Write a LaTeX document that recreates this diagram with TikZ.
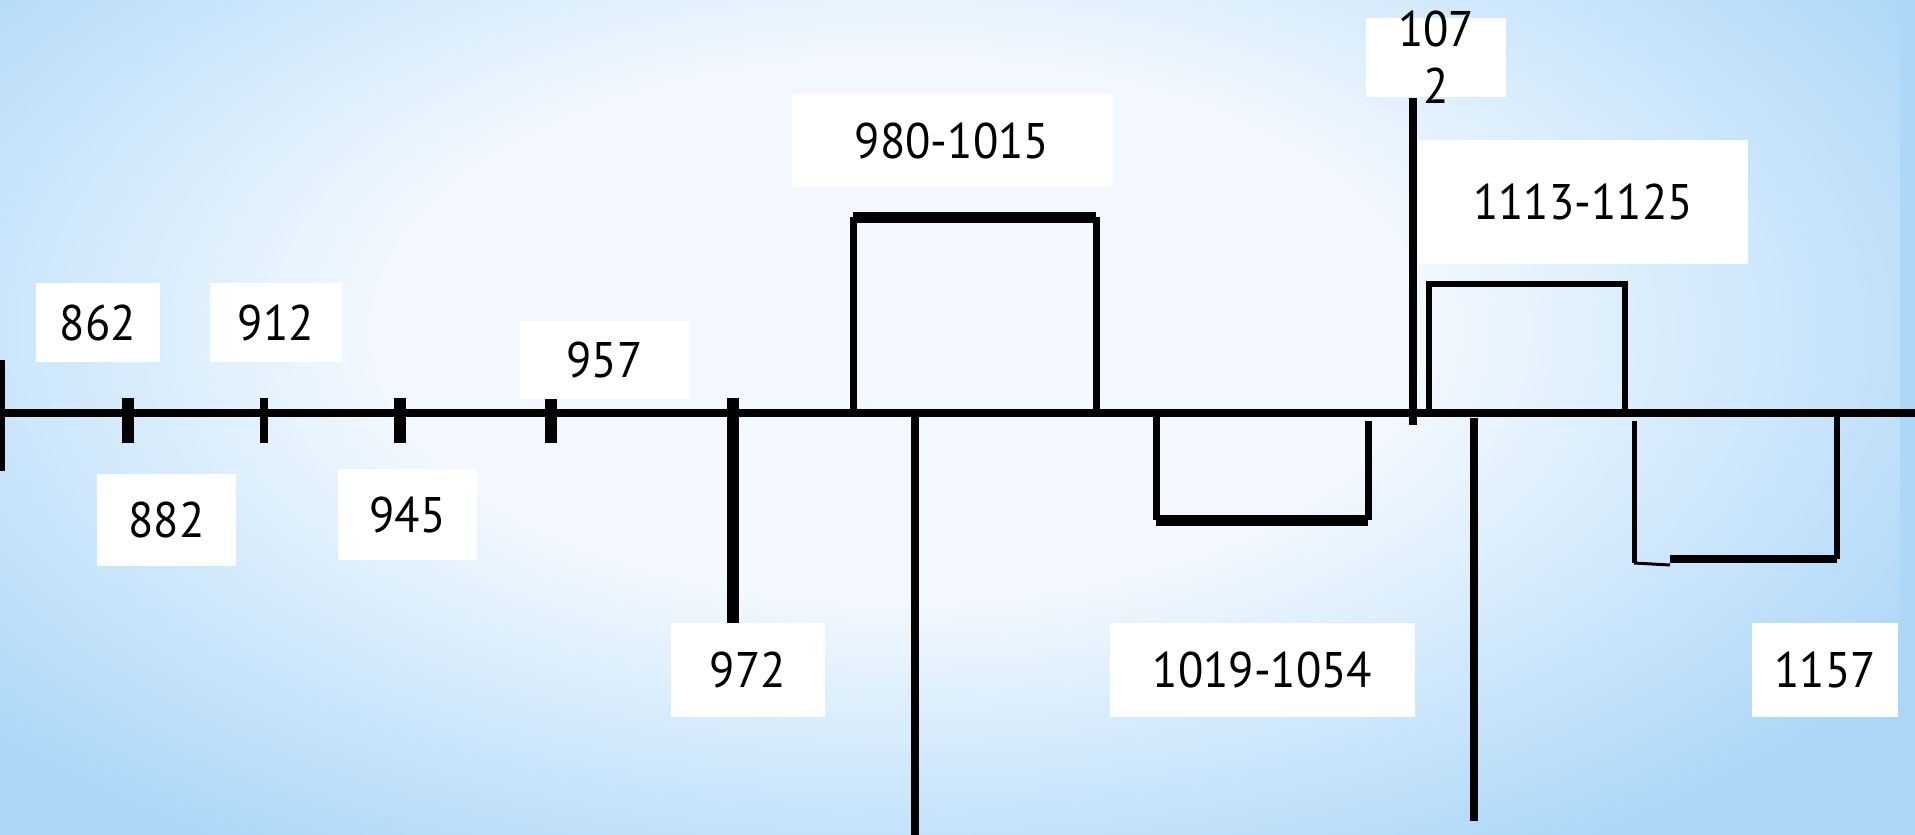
\documentclass[tikz,border=0pt]{standalone}
\usepackage{fontspec}
\setmainfont{PT Sans}[FakeStretch=0.93]
\definecolor{bgblue}{RGB}{172,215,248}
\definecolor{bgpale}{RGB}{242,248,254}
\newcommand\numfont{\fontsize{50}{57}\selectfont}

% soft glow: pale in the middle, blue towards the rim
\pgfdeclareradialshading{bgglow}{\pgfpoint{0bp}{0bp}}{%
  color(0bp)=(bgpale); color(13bp)=(bgpale); color(30bp)=(bgblue); color(50bp)=(bgblue)}

\tikzset{
  numbox/.style={fill=white, inner sep=0pt, font=\numfont, align=center},
  axisline/.style={line width=8pt},
  fattick/.style={line width=12pt},
}

\begin{document}
\begin{tikzpicture}[x=1pt, y=-1pt, line cap=butt, line join=miter]

% page = reference size in pixels (1 px = 1 pt, y runs downwards)
\useasboundingbox (0,0) rectangle (1915,835);
\begin{scope}
  \clip (0,0) rectangle (1915,835);
  \fill[bgblue] (0,0) rectangle (1915,835);
  % glow centre a bit above the middle
  \shade[shading=bgglow] (-100,-190) rectangle (1900,850);
\end{scope}

% time axis
\coordinate (axL) at (0,413);
\coordinate (axR) at (1915,413);
\draw[axisline] (axL) -- (axR);
\draw[line width=5pt] (2,360) -- (2,471);

% short ticks on the axis
\foreach \x/\w in {128/12, 264/8, 400/12, 551/12}
  \draw[line width=\w pt] (\x,398) -- (\x,443);

% long tick down (972)
\draw[fattick] (733,398) -- (733,623);

% 980-1015 : frame above the axis
\coordinate (A1) at (853,413);
\coordinate (A2) at (853,217);
\coordinate (A3) at (1096,217);
\coordinate (A4) at (1096,413);
\draw[line width=7pt] (A1) -- (A2);
\draw[line width=7pt] (A4) -- (A3);
\draw[line width=11pt] (A2) -- (A3);

% long drop below the axis
\draw[axisline] (915,417) -- (915,835);

% 1019-1054 : frame below the axis
\coordinate (B1) at (1156,413);
\coordinate (B2) at (1156,520);
\coordinate (B3) at (1368,520);
\coordinate (B4) at (1368,421);
\draw[line width=7pt] (B1) -- (B2);
\draw[line width=7pt] (B4) -- (B3);
\draw[line width=11pt] (B2) -- (B3);

% 1072 : tall mark crossing the axis
\draw[axisline] (1413,98) -- (1413,425);

% 1113-1125 : frame above the axis
\coordinate (C1) at (1429,413);
\coordinate (C2) at (1429,284);
\coordinate (C3) at (1625,284);
\coordinate (C4) at (1625,413);
\draw[line width=6pt] (C1) -- (C2) -- (C3) -- (C4);

% second long drop
\draw[axisline] (1474,418) -- (1474,821);

% 1157 : frame below the axis (bottom edge not quite closed)
\coordinate (D1) at (1634,421);
\coordinate (D2) at (1634,563);
\coordinate (D3) at (1670,565);
\coordinate (D4) at (1670,559);
\coordinate (D5) at (1837,559);
\coordinate (D6) at (1837,413);
\draw[line width=5pt] (D1) -- (D2);
\draw[line width=3pt] (D2) -- (D3);
\draw[line width=8pt] (D4) -- (D5);
\draw[line width=6pt] (D6) -- (D5);

% labels in white boxes
\node[numbox, minimum width=124pt, minimum height=79pt] (n862) at (98,322.5) {862};
\node[numbox, minimum width=132pt, minimum height=79pt] (n912) at (276,322.5) {912};
\node[numbox, minimum width=139pt, minimum height=92pt] (n882) at (166.5,520) {882};
\node[numbox, minimum width=139pt, minimum height=91pt] (n945) at (407.5,514.5) {945};
\node[numbox, minimum width=169pt, minimum height=78pt] (n957) at (604.5,360) {957};
\node[numbox, minimum width=154pt, minimum height=94pt] (n972) at (748,670) {972};
\node[numbox, minimum width=321pt, minimum height=93pt] (n980) at (952,140.5) {980-1015};
\node[numbox, minimum width=305pt, minimum height=94pt] (n1019) at (1262.5,670) {1019-1054};
\node[numbox, minimum width=330pt, minimum height=124pt] (n1113) at (1583,202) {1113-1125};
\node[numbox, minimum width=146pt, minimum height=94pt] (n1157) at (1825,670) {1157};

% 1072: text runs over its box
\node[fill=white, minimum width=140pt, minimum height=79pt, inner sep=0pt] (b1072) at (1436,57.5) {};
\node[font=\numfont, align=center, inner sep=0pt] (n1072) at (b1072.center) {107\\2};

\end{tikzpicture}
\end{document}
